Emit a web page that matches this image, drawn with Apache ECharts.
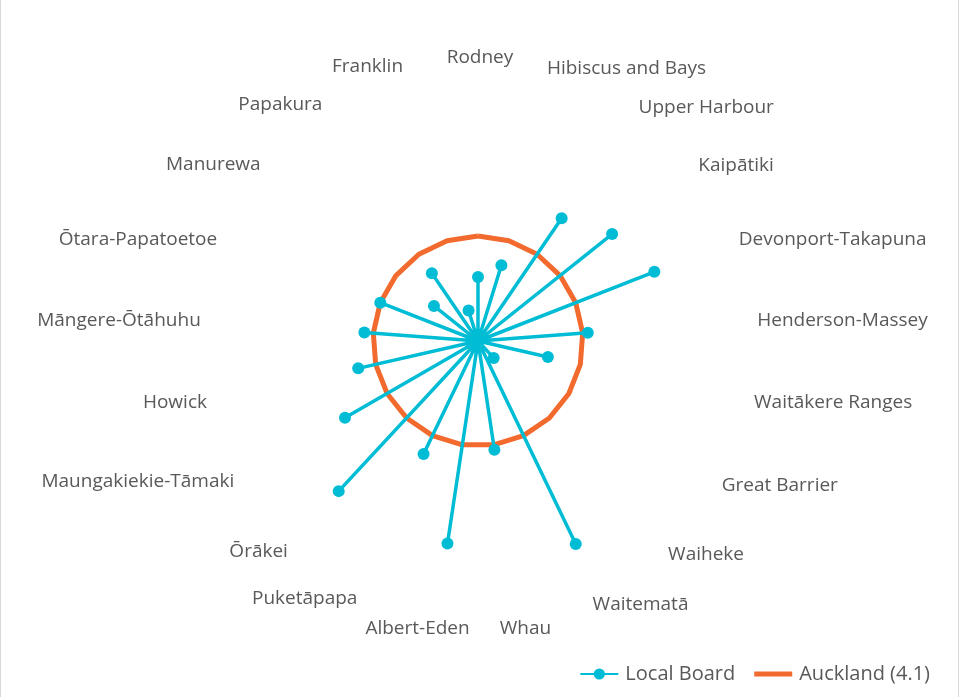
<!DOCTYPE html>
<html>
<head>
<meta charset="utf-8">
<script src="https://cdn.jsdelivr.net/npm/echarts@6/dist/echarts.min.js"></script>
<style>
  html, body { margin: 0; padding: 0; background: #fff; }
  #main {
    width: 959px;
    height: 697px;
    box-sizing: border-box;
    border-left: 1px solid #d9d9d9;
    border-right: 1px solid #d9d9d9;
  }
</style>
</head>
<body>
<div id="main"></div>
<script>
// local boards, clockwise from the top
var boards = ['Rodney', 'Hibiscus and Bays', 'Upper Harbour', 'Kaipātiki', 'Devonport-Takapuna',
  'Henderson-Massey', 'Waitākere Ranges', 'Great Barrier', 'Waiheke', 'Waitematā', 'Whau',
  'Albert-Eden', 'Puketāpapa', 'Ōrākei', 'Maungakiekie-Tāmaki', 'Howick', 'Māngere-Ōtāhuhu',
  'Ōtara-Papatoetoe', 'Manurewa', 'Papakura', 'Franklin'];
var boardValues = [2.5, 3.1, 5.8, 6.7, 7.4, 4.3, 2.8, 0, 0.9, 8.8, 4.3,
  8.0, 4.9, 8.0, 6.0, 4.8, 4.45, 4.1, 2.2, 3.2, 1.25];
var aucklandValue = 4.1;

var fontFam = '"Open Sans", "Liberation Sans", sans-serif';
var textColor = '#595959';
var cyan = '#00bcd4';
var orange = '#f26a2e';

// small label nudges [dx, dy] so the names sit where Excel put them
var labelNudge = {
  'Rodney': [2, 4], 'Hibiscus and Bays': [-13, 3], 'Upper Harbour': [4, 6], 'Kaipātiki': [3, 7],
  'Devonport-Takapuna': [2, 10], 'Henderson-Massey': [2, -1], 'Waitākere Ranges': [5, -2],
  'Great Barrier': [3, -4], 'Waiheke': [1, 0], 'Waitematā': [-6, 4], 'Whau': [6, 3],
  'Albert-Eden': [-19, 3], 'Puketāpapa': [0, -2], 'Ōrākei': [-1, -3], 'Maungakiekie-Tāmaki': [-3, -8],
  'Howick': [0, 3], 'Māngere-Ōtāhuhu': [0, 1], 'Ōtara-Papatoetoe': [-2, 10], 'Manurewa': [0, 6],
  'Papakura': [1, 3], 'Franklin': [7, 1]
};
var angleData = boards.map(function (b) {
  var n = labelNudge[b] || [0, 0];
  return { value: b, textStyle: { padding: [n[1], -n[0], -n[1], n[0]] } };
});

// each board: a spoke from the centre out to its value
var spokes = [];
boardValues.forEach(function (v, i) {
  spokes.push({ value: [0, i], symbol: 'none' });
  spokes.push({ value: [v, i] });
});

// Auckland average, closed ring
var ring = boards.map(function (b, i) { return [aucklandValue, i]; });
ring.push([aucklandValue, 0]);

var myChart = echarts.init(document.getElementById('main'));
myChart.setOption({
  animation: false,
  backgroundColor: '#fff',
  polar: {
    center: [477, 341],
    radius: 256
  },
  angleAxis: {
    type: 'category',
    data: angleData,
    // band centres: shift by half a band so Rodney sits at the top
    startAngle: 90 + 180 / boards.length,
    clockwise: true,
    boundaryGap: true,
    axisLine: { show: false },
    axisTick: { show: false },
    splitLine: { show: false },
    axisLabel: {
      interval: 0,
      color: textColor,
      fontSize: 19,
      fontFamily: fontFam,
      margin: 22
    }
  },
  radiusAxis: {
    min: 0,
    max: 10,
    axisLine: { show: false },
    axisTick: { show: false },
    axisLabel: { show: false },
    splitLine: { show: false }
  },
  legend: {
    right: 23,
    top: 659,
    itemWidth: 38,
    itemHeight: 14,
    itemGap: 19,
    textStyle: { color: textColor, fontSize: 20, fontFamily: fontFam, padding: [0, 0, 0, 2] },
    data: [
      { name: 'Local Board' },
      { name: 'Auckland (4.1)', icon: 'path://M0,0L38,0L38,5L0,5Z', itemStyle: { color: orange } }
    ]
  },
  series: [
    {
      name: 'Local Board',
      type: 'line',
      coordinateSystem: 'polar',
      data: spokes,
      z: 3,
      symbol: 'circle',
      symbolSize: 12,
      lineStyle: { color: cyan, width: 3.5 },
      itemStyle: { color: cyan }
    },
    {
      name: 'Auckland (4.1)',
      type: 'line',
      coordinateSystem: 'polar',
      data: ring,
      z: 2,
      symbol: 'none',
      lineStyle: { color: orange, width: 5, join: 'round' },
      itemStyle: { color: orange }
    }
  ]
});
</script>
</body>
</html>
